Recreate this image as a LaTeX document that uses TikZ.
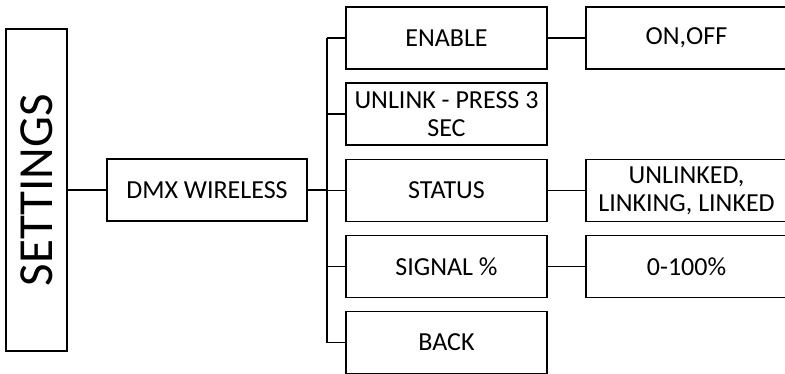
\documentclass[tikz,border=0pt]{standalone}
\usepackage{fontspec}
\setmainfont{Carlito}
\usetikzlibrary{positioning}
\tikzstyle{menu}=[draw,rectangle,line width=1.3pt,align=center,minimum width=201pt,minimum height=62pt,inner sep=1pt,font=\fontsize{26}{28}\selectfont]
\tikzstyle{val}=[menu,minimum width=201pt]
\tikzstyle{link}=[draw,line width=1.3pt,black]

\begin{document}
\begin{tikzpicture}[x=1pt,y=-1pt]
\clip (0,0) rectangle (785,374);
\useasboundingbox (0,0) rectangle (785,374);

	\node[menu,rotate=90,minimum width=322pt,minimum height=61pt,font=\fontsize{49}{52}\selectfont] (set) at (36.5,190) {SETTINGS};
	\node[menu,minimum width=200pt] (dmx) at (207,190) {DMX WIRELESS};

	\node[menu] (en) at (446.5,38) {ENABLE};
	\node[menu] (ul) at (446.5,114) {UNLINK - PRESS 3\\SEC};
	\node[menu] (stat) at (446.5,190.5) {STATUS};
	\node[menu] (sig) at (446.5,266.5) {SIGNAL \%};
	\node[menu] (bk) at (446.5,342.5) {BACK};

	\node[val] (onoff) at (686.5,38) {ON,OFF};
	\node[val] (link) at (686.5,190.5) {UNLINKED,\\LINKING, LINKED};
	\node[val] (pct) at (686.5,266.5) {0-100\%};

	\coordinate (bus) at (327,190);

	\path[link] (set) -- (dmx);
	\path[link] (dmx) -- (bus);
	\path[link] (bus |- en) -- (bus |- bk);

	\path[link] (bus |- en) -- (en);
	\path[link] (bus |- ul) -- (ul);
	\path[link] (bus |- stat) -- (stat);
	\path[link] (bus |- sig) -- (sig);
	\path[link] (bus |- bk) -- (bk);

	\path[link] (en) -- (onoff);
	\path[link] (stat) -- (link);
	\path[link] (sig) -- (pct);
\end{tikzpicture}
\end{document}
